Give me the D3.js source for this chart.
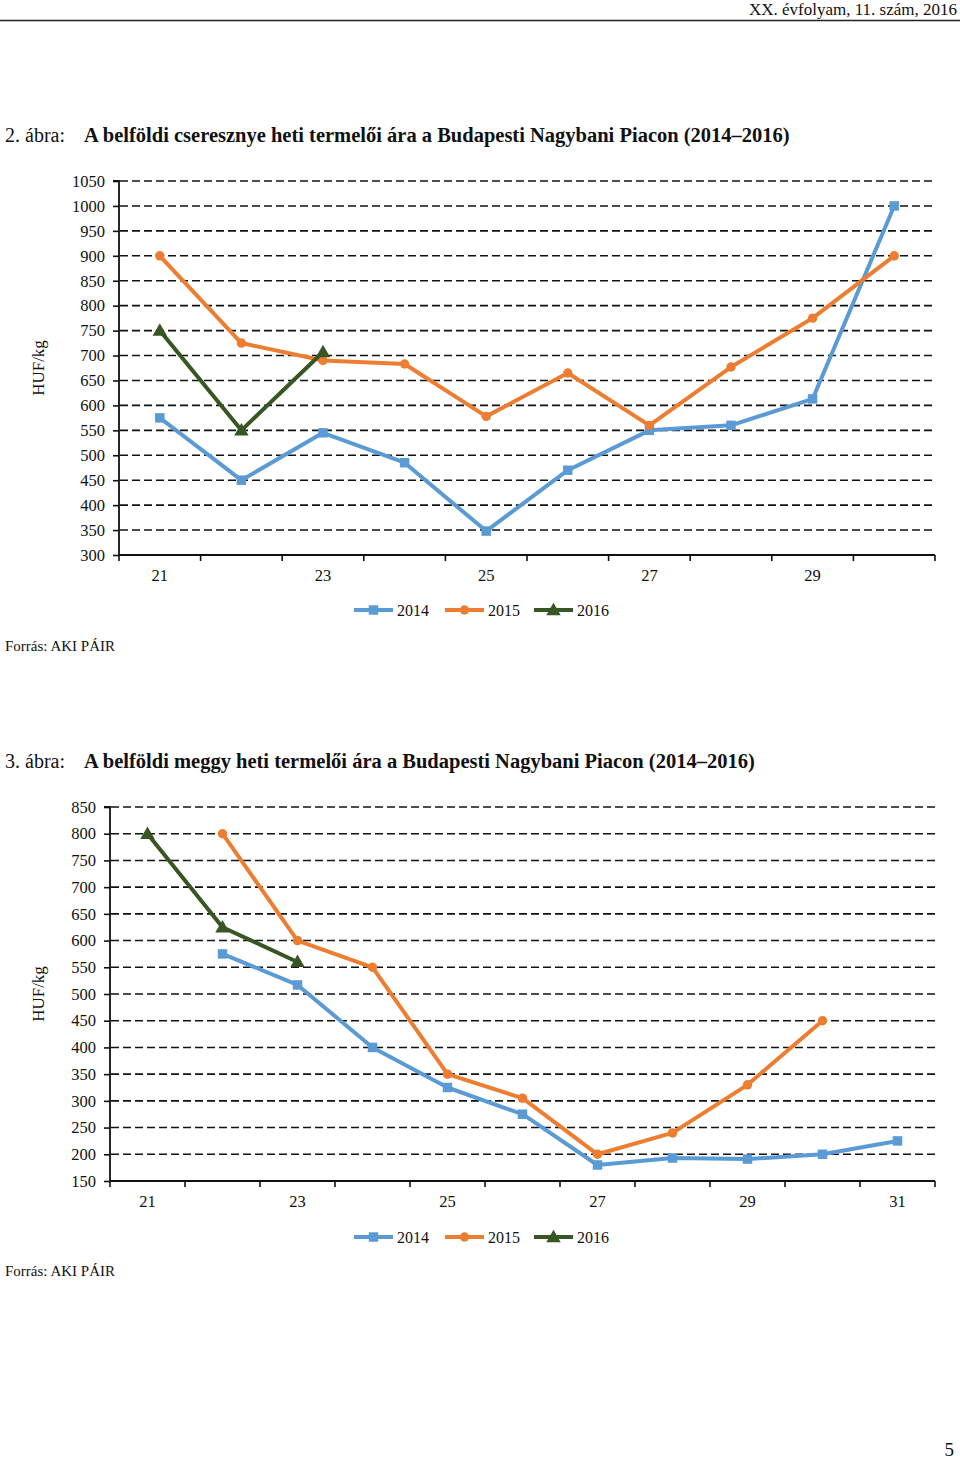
<!DOCTYPE html>
<html>
<head>
<meta charset="utf-8">
<script src="https://cdn.jsdelivr.net/npm/d3@7"></script>
<style>
  html, body { margin: 0; padding: 0; background: #fff; }
  svg { display: block; font-family: "Liberation Serif", "Times New Roman", serif; }
</style>
</head>
<body>
<script>
// ---------- DATA ----------
const headerText = "XX. évfolyam, 11. szám, 2016";
const pageNumber = "5";
const sourceText = "Forrás: AKI PÁIR";
const seriesNames = ["2014", "2015", "2016"];

// Chart 1: cherry (cseresznye)
const title1Num = "2. ábra:";
const title1Text = "A belföldi cseresznye heti termelői ára a Budapesti Nagybani Piacon (2014–2016)";
const weeks1 = [21, 22, 23, 24, 25, 26, 27, 28, 29, 30];
const cherry2014 = [575, 450, 545, 485, 348, 470, 550, 560, 613, 1000];
const cherry2015 = [900, 725, 690, 683, 578, 665, 560, 677, 775, 900];
const cherry2016 = [750, 550, 707, null, null, null, null, null, null, null];
const yTicks1 = [300, 350, 400, 450, 500, 550, 600, 650, 700, 750, 800, 850, 900, 950, 1000, 1050];
const xLabels1 = [21, 23, 25, 27, 29];

// Chart 2: sour cherry (meggy)
const title2Num = "3. ábra:";
const title2Text = "A belföldi meggy heti termelői ára a Budapesti Nagybani Piacon (2014–2016)";
const weeks2 = [21, 22, 23, 24, 25, 26, 27, 28, 29, 30, 31];
const sour2014 = [null, 575, 517, 400, 325, 275, 180, 193, 191, 200, 225];
const sour2015 = [null, 800, 600, 550, 350, 305, 200, 240, 330, 450, null];
const sour2016 = [800, 625, 560, null, null, null, null, null, null, null, null];
const yTicks2 = [150, 200, 250, 300, 350, 400, 450, 500, 550, 600, 650, 700, 750, 800, 850];
const xLabels2 = [21, 23, 25, 27, 29, 31];

// ---------- STYLE ----------
const colors = ["#5B9BD5", "#ED7D31", "#375623"];
const shapes = [d3.symbolSquare, d3.symbolCircle, d3.symbolTriangle];
const symSizes = [90, 70, 90];

const W = 960, H = 1461;
const svg = d3.select("body").append("svg").attr("width", W).attr("height", H);

// Header
svg.append("text").attr("x", 957).attr("y", 15).attr("text-anchor", "end")
  .attr("font-size", 17).attr("fill", "#111").text(headerText);
svg.append("line").attr("x1", 0).attr("x2", 960).attr("y1", 20.5).attr("y2", 20.5)
  .attr("stroke", "#222").attr("stroke-width", 1.6);

// Page number
svg.append("text").attr("x", 954).attr("y", 1456).attr("text-anchor", "end")
  .attr("font-size", 19).attr("fill", "#111").text(pageNumber);

function drawChart(cfg) {
  const g = svg.append("g");
  // title
  g.append("text").attr("x", 5).attr("y", cfg.titleY).attr("font-size", 20).attr("fill", "#111")
    .text(cfg.titleNum);
  g.append("text").attr("x", 84).attr("y", cfg.titleY).attr("font-size", 20.5).attr("font-weight", "bold")
    .attr("fill", "#111").text(cfg.titleText);

  const x = d3.scaleBand().domain(cfg.weeks).range([cfg.left, cfg.right]).padding(0);
  const y = d3.scaleLinear().domain([cfg.yTicks[0], cfg.yTicks[cfg.yTicks.length - 1]])
    .range([cfg.bottom, cfg.top]);

  // gridlines
  g.append("g").selectAll("line").data(cfg.yTicks.slice(1)).join("line")
    .attr("x1", cfg.left + 1).attr("x2", cfg.right)
    .attr("y1", d => y(d)).attr("y2", d => y(d))
    .attr("stroke", "#111").attr("stroke-width", 1.6).attr("stroke-dasharray", "8,4");

  // y axis
  const ya = g.append("g").attr("transform", `translate(${cfg.left},0)`)
    .call(d3.axisLeft(y).tickValues(cfg.yTicks).tickSize(6).tickPadding(8).tickFormat(d3.format("d")));
  ya.select(".domain").attr("stroke", "#111").attr("stroke-width", 1.8)
    .attr("d", `M-6,${cfg.top}H0V${cfg.bottom}`);
  ya.selectAll(".tick line").attr("stroke", "#111").attr("stroke-width", 1.6);
  ya.selectAll(".tick text").attr("font-size", 16.5).attr("fill", "#111")
    .attr("font-family", "Liberation Serif, serif");

  // x axis (labels at band centers, ticks at band edges)
  const xa = g.append("g").attr("transform", `translate(0,${cfg.bottom})`)
    .call(d3.axisBottom(x).tickValues(cfg.xLabels).tickSize(0).tickPadding(14));
  xa.select(".domain").attr("stroke", "#111").attr("stroke-width", 1.8)
    .attr("d", `M${cfg.left},0H${cfg.right}`);
  xa.selectAll(".tick text").attr("font-size", 16.5).attr("fill", "#111")
    .attr("font-family", "Liberation Serif, serif");
  const edges = cfg.weeks.map(w => x(w)).concat([x.range()[1]]);
  g.append("g").selectAll("line").data(edges).join("line")
    .attr("x1", d => d).attr("x2", d => d)
    .attr("y1", cfg.bottom).attr("y2", cfg.bottom + 6)
    .attr("stroke", "#111").attr("stroke-width", 1.6);

  // y axis title
  g.append("text").attr("transform", `translate(${cfg.yTitleX},${cfg.yTitleY}) rotate(-90)`)
    .attr("text-anchor", "middle").attr("font-size", 17).attr("fill", "#111").text("HUF/kg");

  // series
  const line = d3.line().defined(d => d.v != null)
    .x(d => x(d.w) + x.bandwidth() / 2).y(d => y(d.v));
  cfg.series.forEach((vals, i) => {
    const pts = cfg.weeks.map((w, k) => ({ w, v: vals[k] }));
    g.append("path").datum(pts).attr("d", line).attr("fill", "none")
      .attr("stroke", colors[i]).attr("stroke-width", 4).attr("stroke-linejoin", "round");
    g.append("g").selectAll("path").data(pts.filter(d => d.v != null)).join("path")
      .attr("transform", d => `translate(${x(d.w) + x.bandwidth() / 2},${y(d.v) + (i === 2 ? 1 : 0)})`)
      .attr("d", d3.symbol().type(shapes[i]).size(symSizes[i]))
      .attr("fill", colors[i]);
  });

  // legend
  const legX = [354, 445, 534];
  seriesNames.forEach((name, i) => {
    const lg = g.append("g").attr("transform", `translate(${legX[i]},${cfg.legendY})`);
    lg.append("line").attr("x1", 0).attr("x2", 39).attr("y1", 0).attr("y2", 0)
      .attr("stroke", colors[i]).attr("stroke-width", 4);
    lg.append("path").attr("transform", `translate(19.5,${i === 2 ? 1 : 0})`)
      .attr("d", d3.symbol().type(shapes[i]).size(symSizes[i])).attr("fill", colors[i]);
    lg.append("text").attr("x", 43).attr("y", 6).attr("font-size", 16).attr("fill", "#111").text(name);
  });

  // source
  g.append("text").attr("x", 5).attr("y", cfg.sourceY).attr("font-size", 15).attr("fill", "#111")
    .text(sourceText);
}

drawChart({
  titleNum: title1Num, titleText: title1Text, titleY: 142,
  weeks: weeks1, yTicks: yTicks1, xLabels: xLabels1,
  series: [cherry2014, cherry2015, cherry2016],
  left: 119, right: 935, top: 181, bottom: 555,
  yTitleX: 44, yTitleY: 368, legendY: 610, sourceY: 651
});

drawChart({
  titleNum: title2Num, titleText: title2Text, titleY: 768,
  weeks: weeks2, yTicks: yTicks2, xLabels: xLabels2,
  series: [sour2014, sour2015, sour2016],
  left: 110, right: 935, top: 807, bottom: 1181,
  yTitleX: 44, yTitleY: 994, legendY: 1237, sourceY: 1276
});
</script>
</body>
</html>
